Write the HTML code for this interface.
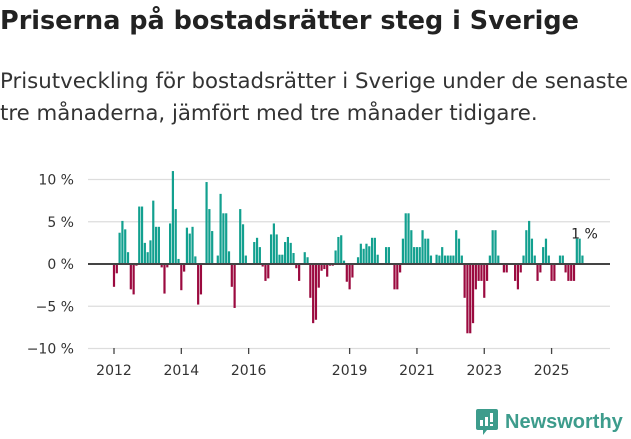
<!DOCTYPE html>
<html><head><meta charset="utf-8">
<style>
body{margin:0;width:631px;height:439px;background:#fff;font-family:"DejaVu Sans","Liberation Sans",sans-serif;color:#222;overflow:hidden;position:relative}
h1{position:absolute;left:0;top:1px;margin:0;font-size:25.5px;font-weight:bold;line-height:40px;white-space:nowrap;letter-spacing:0}
.sub{position:absolute;left:0;top:66px;margin:0;font-size:21.3px;line-height:32px;color:#333;white-space:nowrap;letter-spacing:0}
svg{position:absolute;left:0;top:0}
</style></head><body>
<h1>Priserna på bostadsrätter steg i Sverige</h1>
<p class="sub">Prisutveckling för bostadsrätter i Sverige under de senaste<br>tre månaderna, jämfört med tre månader tidigare.</p>
<svg id="chart" width="631" height="439"></svg>
<div style="position:absolute;left:476px;top:409px;display:flex;align-items:center;">
<svg width="22" height="26" viewBox="0 0 22 26" style="position:static"><path d="M2 0h18a2 2 0 0 1 2 2v17a2 2 0 0 1-2 2H11l-4 5v-5H2a2 2 0 0 1-2-2V2a2 2 0 0 1 2-2z" fill="#3d9c8c"/><rect x="4" y="11" width="3" height="6" fill="#fff"/><rect x="9" y="8" width="3" height="9" fill="#fff"/><rect x="14" y="4" width="3" height="9" fill="#fff"/><rect x="14" y="15" width="3" height="2" fill="#fff"/></svg>
<span style="font-size:20px;color:#3d9c8c;margin-left:7px;font-family:'Liberation Sans',sans-serif;font-weight:bold">Newsworthy</span></div>
<script>
const values=[-2.7,-1.1,3.7,5.1,4.1,1.4,-3,-3.6,-0.2,6.8,6.8,2.5,1.4,2.8,7.5,4.4,4.4,-0.4,-3.5,-0.4,4.8,11,6.5,0.6,-3.1,-0.9,4.3,3.6,4.4,0.9,-4.8,-3.6,0,9.7,6.5,3.9,0,1,8.3,6,6,1.5,-2.7,-5.2,0,6.5,4.7,1,0,0.1,2.6,3.1,2,-0.3,
-2,-1.7,3.5,4.8,3.5,1.1,1.1,2.6,3.2,2.5,1.3,-0.5,-2,0,1.4,0.8,-4,-7,-6.6,-2.8,-0.8,-0.6,-1.5,-0.2,-0.2,1.6,3.2,3.4,0.4,-2.1,-3,-1.6,0,0.8,2.4,1.8,2.4,2.1,3.1,3.1,1.1,0,0,2,2,0,-3,-3,-1,3,6,6,4,2,2,2,4,3,3,1,0,1.1,
1,2,1,1,1,1,4,3,1,-4,-8.2,-8.2,-7,-3,-2,-2,-4,-2,1,4,4,1,0,-1,-1,0,0,-2,-3,-1,1,4,5.1,3,1,-2,-1,2,3,1,-2,-2,0,1,1,-1,-2,-2,-2,3,3,1];
const startYear=2012;
const yTicks=[10,5,0,-5,-10];
const yTickLabels=["10 %","5 %","0 %","−5 %","−10 %"];
const xTickYears=[2012,2014,2016,2019,2021,2023,2025];
const NS="http://www.w3.org/2000/svg",svg=document.getElementById('chart');
const y=v=>264-v*8.45;
const x=i=>114+i*2.805;
function mk(t,a){const e=document.createElementNS(NS,t);for(const k in a)e.setAttribute(k,a[k]);svg.appendChild(e);return e;}
yTicks.forEach((t,i)=>{
 const g=mk('line',{x1:88,x2:610,y1:y(t),y2:y(t),stroke:'#ddd','stroke-width':1.3});
 
 
 const l=mk('text',{x:74,y:y(t)+5,'text-anchor':'end','font-size':14,fill:'#333'});
 l.textContent=yTickLabels[i];
 
 
});
values.forEach((v,i)=>{
 if(v===0)return;
 const r=mk('rect',{x:x(i)-1.1,width:2.2,y:v>0?y(v):y(0),height:Math.abs(y(v)-y(0)),fill:v>0?'#12a08f':'#9b0a3f'});
 
 
});
const z=mk('line',{x1:88,x2:610,y1:y(0),y2:y(0),stroke:'#444','stroke-width':2});


xTickYears.forEach(yr=>{
 const xx=x((yr-startYear)*12);
 const t=mk('line',{x1:xx,x2:xx,y1:348,y2:354,stroke:'#444','stroke-width':1.3});
 
 
 const l=mk('text',{x:xx,y:375,'text-anchor':'middle','font-size':14,fill:'#333'});
 l.textContent=yr;
 
 
});
const last=values.length-1;
const lab=mk('text',{x:x(last)+2,y:y(values[last])-17,'text-anchor':'middle','font-size':14,fill:'#222'});
lab.textContent=Math.round(values[last])+' %';


</script>
</body></html>
